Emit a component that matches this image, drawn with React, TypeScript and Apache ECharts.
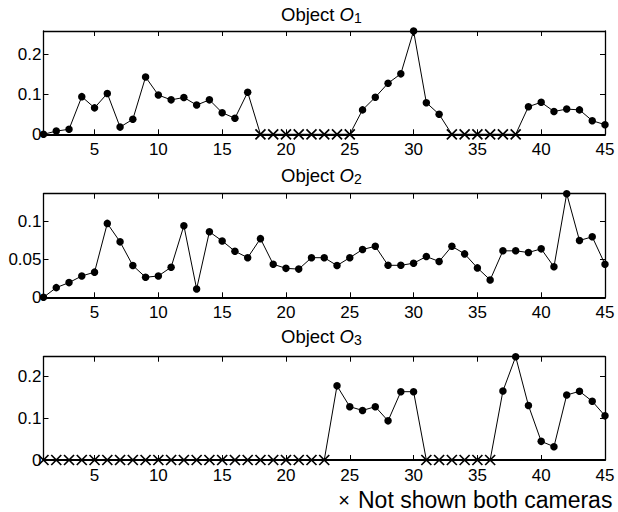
import React, { useEffect, useRef } from "react";
import * as echarts from "echarts";

// Frame indices shared by all three panels
const frames = [
  1, 2, 3, 4, 5, 6, 7, 8, 9, 10, 11, 12, 13, 14, 15, 16, 17, 18, 19, 20, 21, 22,
  23, 24, 25, 26, 27, 28, 29, 30, 31, 32, 33, 34, 35, 36, 37, 38, 39, 40, 41,
  42, 43, 44, 45,
];

const xTicks = [5, 10, 15, 20, 25, 30, 35, 40, 45];

// Per-frame values for each object (0 where the object is not visible)
const o1Values = [
  0, 0.008, 0.0125, 0.094, 0.066, 0.102, 0.018, 0.0375, 0.143, 0.098, 0.086,
  0.092, 0.073, 0.086, 0.054, 0.04, 0.105, 0, 0, 0, 0, 0, 0, 0, 0, 0.061,
  0.0925, 0.1275, 0.151, 0.258, 0.079, 0.05, 0, 0, 0, 0, 0, 0, 0.069, 0.08,
  0.057, 0.063, 0.061, 0.034, 0.024,
];
const o2Values = [
  0, 0.0127, 0.0193, 0.028, 0.033, 0.097, 0.0728, 0.0417, 0.0263, 0.028,
  0.0395, 0.094, 0.011, 0.086, 0.074, 0.0605, 0.052, 0.077, 0.0434, 0.038,
  0.037, 0.052, 0.052, 0.0417, 0.052, 0.0627, 0.067, 0.042, 0.042, 0.0447,
  0.0535, 0.047, 0.067, 0.057, 0.0386, 0.0228, 0.061, 0.061, 0.0588, 0.0636,
  0.04, 0.136, 0.0746, 0.0794, 0.0434,
];
const o3Values = [
  0, 0, 0, 0, 0, 0, 0, 0, 0, 0, 0, 0, 0, 0, 0, 0, 0, 0, 0, 0, 0, 0, 0, 0.178,
  0.128, 0.119, 0.128, 0.094, 0.164, 0.164, 0, 0, 0, 0, 0, 0, 0.1656, 0.248,
  0.131, 0.0448, 0.032, 0.156, 0.165, 0.141, 0.106,
];

// Frames in which the object is not shown by both cameras
const o1Hidden = [18, 19, 20, 21, 22, 23, 24, 25, 33, 34, 35, 36, 37, 38];
const o2Hidden: number[] = [];
const o3Hidden = [
  1, 2, 3, 4, 5, 6, 7, 8, 9, 10, 11, 12, 13, 14, 15, 16, 17, 18, 19, 20, 21,
  22, 23, 31, 32, 33, 34, 35, 36,
];

const o1Ticks = [0, 0.1, 0.2];
const o2Ticks = [0, 0.05, 0.1];
const o3Ticks = [0, 0.1, 0.2];

const titles = ["1", "2", "3"];
const legendText = "Not shown both cameras";

const FONT = "'Liberation Sans', Arial, Helvetica, sans-serif";
const CROSS = "path://M0,0L10,10M10,0L0,10";

const panels = [
  { values: o1Values, hidden: o1Hidden, ticks: o1Ticks },
  { values: o2Values, hidden: o2Hidden, ticks: o2Ticks },
  { values: o3Values, hidden: o3Hidden, ticks: o3Ticks },
];

const gridBoxes = [
  { left: 43.5, top: 31, width: 561.5, height: 103.3 },
  { left: 43.5, top: 193.7, width: 561.5, height: 103.6 },
  { left: 43.5, top: 356.7, width: 561.5, height: 103.3 },
];
const titleY = [14, 175, 336];

function buildPoints(values: number[], hidden: number[]) {
  return values.map((v, i) => {
    const f = frames[i];
    if (hidden.includes(f)) {
      return {
        value: [f, v],
        symbol: CROSS,
        symbolSize: 10,
        itemStyle: {
          color: "rgba(0,0,0,0)",
          borderColor: "#000",
          borderWidth: 1.7,
        },
      };
    }
    return { value: [f, v] };
  });
}

export default function App() {
  const ref = useRef<HTMLDivElement>(null);

  useEffect(() => {
    if (!ref.current) return;
    const chart = echarts.init(ref.current, undefined, { renderer: "svg" });

    const xAxis: any[] = [];
    const yAxis: any[] = [];
    const series: any[] = [];
    const graphic: any[] = [];

    panels.forEach((p, k) => {
      const yMax = Math.max(...p.values);
      // bottom axis with labels
      xAxis.push({
        type: "value",
        gridIndex: k,
        position: "bottom",
        min: 1,
        max: 45,
        axisLine: { show: true, onZero: false, lineStyle: { color: "#000", width: 2 } },
        axisTick: {
          show: true,
          inside: true,
          length: 5,
          customValues: xTicks,
          lineStyle: { color: "#000", width: 1 },
        },
        axisLabel: {
          show: true,
          customValues: xTicks,
          color: "#000",
          fontSize: 17,
          fontFamily: FONT,
          margin: 7,
          showMinLabel: true,
          showMaxLabel: true,
        },
        splitLine: { show: false },
      });
      // top box edge with ticks
      xAxis.push({
        type: "value",
        gridIndex: k,
        position: "top",
        min: 1,
        max: 45,
        axisLine: { show: true, onZero: false, lineStyle: { color: "#000", width: 1.3 } },
        axisTick: {
          show: true,
          inside: true,
          length: 5,
          customValues: xTicks,
          lineStyle: { color: "#000", width: 1 },
        },
        axisLabel: { show: false },
        splitLine: { show: false },
      });
      yAxis.push({
        type: "value",
        gridIndex: k,
        position: "left",
        min: 0,
        max: yMax,
        axisLine: { show: true, onZero: false, lineStyle: { color: "#000", width: 1.3 } },
        axisTick: {
          show: true,
          inside: true,
          length: 5,
          customValues: p.ticks,
          lineStyle: { color: "#000", width: 1 },
        },
        axisLabel: {
          show: true,
          customValues: p.ticks,
          color: "#000",
          fontSize: 17,
          fontFamily: FONT,
          margin: 2,
          showMinLabel: true,
          formatter: (v: number) => String(v),
        },
        splitLine: { show: false },
      });
      yAxis.push({
        type: "value",
        gridIndex: k,
        position: "right",
        min: 0,
        max: yMax,
        axisLine: { show: true, onZero: false, lineStyle: { color: "#000", width: 1.3 } },
        axisTick: {
          show: true,
          inside: true,
          length: 5,
          customValues: p.ticks,
          lineStyle: { color: "#000", width: 1 },
        },
        axisLabel: { show: false },
        splitLine: { show: false },
      });
      series.push({
        type: "line",
        xAxisIndex: k * 2,
        yAxisIndex: k * 2,
        data: buildPoints(p.values, p.hidden),
        symbol: "circle",
        symbolSize: 7.5,
        clip: false,
        lineStyle: { color: "#000", width: 1 },
        itemStyle: { color: "#000" },
        z: 5,
      });
      graphic.push({
        type: "text",
        x: 281,
        y: titleY[k],
        z: 10,
        style: {
          text: "Object {o|O}{s|" + titles[k] + "}",
          fontFamily: FONT,
          fontSize: 18.5,
          lineHeight: 22,
          fill: "#000",
          align: "left",
          verticalAlign: "middle",
          rich: {
            o: { fontFamily: FONT, fontSize: 18.5, fontStyle: "italic", lineHeight: 22 },
            s: { fontFamily: FONT, fontSize: 14, lineHeight: 14, verticalAlign: "bottom" },
          },
        },
      });
    });

    graphic.push({
      type: "text",
      x: 344,
      y: 500,
      z: 10,
      style: {
        text: "\u00d7",
        fontFamily: FONT,
        fontSize: 20,
        fill: "#000",
        align: "center",
        verticalAlign: "middle",
      },
    });
    graphic.push({
      type: "text",
      x: 358,
      y: 500,
      z: 10,
      style: {
        text: legendText,
        fontFamily: FONT,
        fontSize: 23,
        fill: "#000",
        align: "left",
        verticalAlign: "middle",
      },
    });

    chart.setOption({
      animation: false,
      backgroundColor: "#fff",
      grid: gridBoxes.map((g) => ({ ...g, containLabel: false })),
      xAxis,
      yAxis,
      series,
      graphic,
    });

    return () => chart.dispose();
  }, []);

  return (
    <div
      ref={ref}
      style={{ position: "absolute", left: 0, top: 0, width: 618, height: 512 }}
    />
  );
}
